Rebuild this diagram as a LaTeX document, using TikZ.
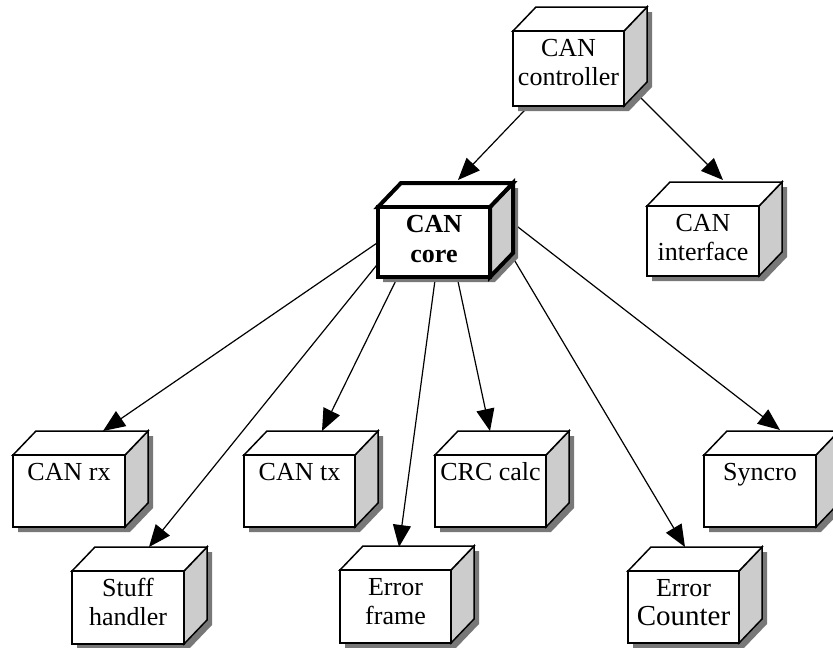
\documentclass[tikz,border=0pt]{standalone}
\usepackage{fontspec}
\setmainfont{Liberation Serif}
\usetikzlibrary{arrows.meta}
\definecolor{sidegray}{RGB}{204,204,204}
\definecolor{shadowgray}{RGB}{120,120,120}
\tikzset{
  boxline/.style={draw=black, line width=1.5pt},
  corebox/.style={line width=4pt},
  boxtext/.style={inner sep=0pt, align=center, anchor=north, font=\fontsize{26}{29}\selectfont},
  corefont/.style={font=\fontsize{26}{30}\selectfont\bfseries},
  link/.style={line width=1.2pt, -{Triangle[length=22pt,width=18pt]}},
}
% #1 name, #2 x, #3 y (front top), #4 w, #5 h, #6 text, #7 line style, #8 text style
\newcommand\cubebox[8]{%
  \begin{scope}[shift={(#2,#3)}]
    \fill[shadowgray] (5,5) -- (28,-19) -- (#4+28,-19) -- (#4+28,#5-19) -- (#4+5,#5+5) -- (5,#5+5) -- cycle;
    \filldraw[fill=sidegray, boxline, #7] (#4,0) -- (#4+23,-24) -- (#4+23,#5-24) -- (#4,#5) -- cycle;
    \filldraw[fill=white, boxline, #7] (0,0) -- (23,-24) -- (#4+23,-24) -- (#4,0) -- cycle;
    \filldraw[fill=white, boxline, #7] (0,0) rectangle (#4,#5);
    \node[boxtext, #8] (#1) at (#4/2,0) {\rule{0pt}{25pt}#6};
  \end{scope}}
\begin{document}
\begin{tikzpicture}[x=1pt, y=-1pt]
  \useasboundingbox (0,0) rectangle (833,648);
  \clip (0,0) rectangle (833,648);
  \fill[white] (0,0) rectangle (833,648);
  % connector ends
  \coordinate (c1s) at (544,90);  \coordinate (c1e) at (458,180);
  \coordinate (c2s) at (626,83);  \coordinate (c2e) at (723,180);
  \coordinate (k1s) at (396,230); \coordinate (k1e) at (103,431);
  \coordinate (k2s) at (393,245); \coordinate (k2e) at (149,547);
  \coordinate (k3s) at (406,260); \coordinate (k3e) at (322,431);
  \coordinate (k4s) at (438,258); \coordinate (k4e) at (399,547);
  \coordinate (k5s) at (453,258); \coordinate (k5e) at (490,431);
  \coordinate (k6s) at (500,236); \coordinate (k6e) at (685,547);
  \coordinate (k7s) at (496,210); \coordinate (k7e) at (780,430);
  \draw[link] (c1s) -- (c1e);
  \draw[link] (c2s) -- (c2e);
  \draw[link] (k1s) -- (k1e);
  \draw[link] (k2s) -- (k2e);
  \draw[link] (k3s) -- (k3e);
  \draw[link] (k4s) -- (k4e);
  \draw[link] (k5s) -- (k5e);
  \draw[link] (k6s) -- (k6e);
  \draw[link] (k7s) -- (k7e);
  % boxes
  \cubebox{ctrl}{513}{31}{111}{75}{CAN\\controller}{}{}
  \cubebox{iface}{647}{206}{112}{70}{CAN\\interface}{}{}
  \cubebox{core}{378}{207}{112}{70}{CAN\\core}{corebox}{corefont}
  \cubebox{rx}{13}{455}{112}{72}{CAN rx}{}{}
  \cubebox{tx}{244}{455}{111}{72}{CAN tx}{}{}
  \cubebox{crc}{435}{455}{111}{72}{CRC calc}{}{}
  \cubebox{sync}{704}{455}{112}{72}{Syncro}{}{}
  \cubebox{stuff}{72}{571}{112}{73}{Stuff\\handler}{}{}
  \cubebox{eframe}{340}{570}{111}{73}{Error\\frame}{}{}
  \cubebox{ecount}{628}{571}{111}{72}{Error\\{\fontsize{29}{29}\selectfont Counter}}{}{}
\end{tikzpicture}
\end{document}
